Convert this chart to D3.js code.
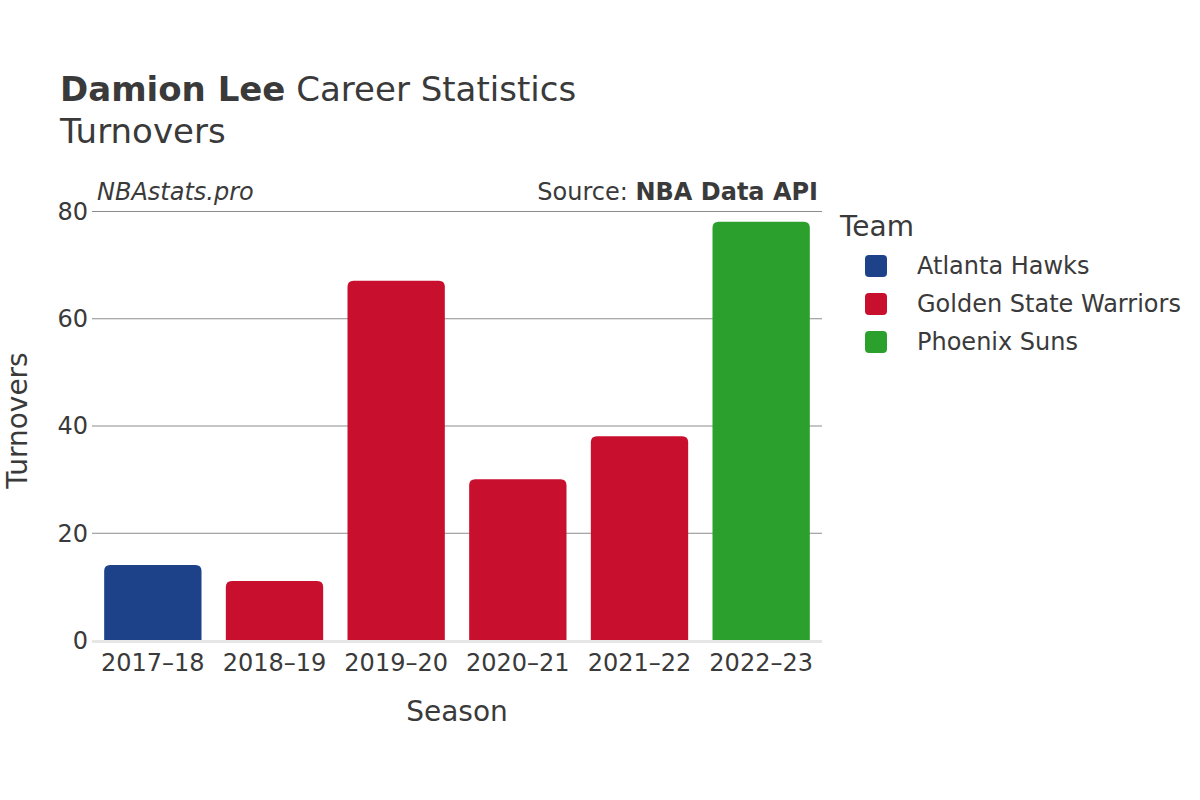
<!DOCTYPE html>
<html>
<head>
<meta charset="utf-8">
<script src="https://cdn.jsdelivr.net/npm/d3@7"></script>
<style>
  html, body { margin: 0; padding: 0; background: #fff; }
  svg { display: block; font-family: "DejaVu Sans", sans-serif; }
</style>
</head>
<body>
<svg id="chart" width="1200" height="800"></svg>
<script>
const seasons = ["2017–18", "2018–19", "2019–20", "2020–21", "2021–22", "2022–23"];
const teams = ["Atlanta Hawks", "Golden State Warriors", "Golden State Warriors", "Golden State Warriors", "Golden State Warriors", "Phoenix Suns"];
const turnovers = [14, 11, 67, 30, 38, 78];
const legendTeams = ["Atlanta Hawks", "Golden State Warriors", "Phoenix Suns"];
const teamColors = ["#1d428a", "#c8102e", "#2ca02c"];
const yTicks = [0, 20, 40, 60, 80];

const svg = d3.select("#chart");
const margin = { left: 92, right: 822, top: 211, bottom: 640 };
const textColor = "#3a3a3a";

const x = d3.scaleBand().domain(seasons).range([margin.left, margin.right]).paddingInner(0.2).paddingOuter(0.1);
const y = d3.scaleLinear().domain([0, 80]).range([margin.bottom, margin.top]);
const color = d3.scaleOrdinal().domain(legendTeams).range(teamColors);

// Title
const title = svg.append("text").attr("x", 60).attr("y", 101).attr("font-size", 34).attr("fill", textColor);
title.append("tspan").attr("font-weight", "bold").text("Damion Lee");
title.append("tspan").text(" Career Statistics");
svg.append("text").attr("x", 60).attr("y", 143).attr("font-size", 34).attr("fill", textColor).text("Turnovers");

// Subtitles
svg.append("text").attr("x", 97).attr("y", 200).attr("font-size", 24).attr("font-style", "italic").attr("fill", textColor).text("NBAstats.pro");
const src = svg.append("text").attr("x", 818).attr("y", 200).attr("font-size", 24).attr("text-anchor", "end").attr("fill", textColor);
src.append("tspan").text("Source: ");
src.append("tspan").attr("font-weight", "bold").text("NBA Data API");

// Grid
const yAxis = d3.axisLeft(y).tickValues(yTicks).tickSize(-(margin.right - margin.left)).tickPadding(4);
const gy = svg.append("g").attr("transform", `translate(${margin.left},0)`).call(yAxis);
gy.select(".domain").remove();
gy.selectAll(".tick line").attr("stroke", "#8c8c8c").attr("stroke-width", 1);
gy.selectAll(".tick").filter(d => d === 0).select("line").remove();
gy.selectAll(".tick text").attr("font-size", 24).attr("fill", textColor).attr("font-family", "DejaVu Sans, sans-serif").attr("dy", "0.35em");

// Zero line
svg.append("line").attr("x1", margin.left).attr("x2", margin.right).attr("y1", y(0) + 1.5).attr("y2", y(0) + 1.5)
  .attr("stroke", "#e6e6e6").attr("stroke-width", 3);

// Bars with rounded top corners
function barPath(x0, w, yTop, yBot, r) {
  r = Math.min(r, w / 2, (yBot - yTop));
  return `M${x0},${yBot} L${x0},${yTop + r} Q${x0},${yTop} ${x0 + r},${yTop} L${x0 + w - r},${yTop} Q${x0 + w},${yTop} ${x0 + w},${yTop + r} L${x0 + w},${yBot} Z`;
}
svg.append("g").selectAll("path").data(seasons).join("path")
  .attr("d", (s, i) => barPath(x(s), x.bandwidth(), y(turnovers[i]), y(0), 6))
  .attr("fill", (s, i) => color(teams[i]));

// X axis
const xAxis = d3.axisBottom(x).tickSize(0).tickPadding(8);
const gx = svg.append("g").attr("transform", `translate(0,${margin.bottom})`).call(xAxis);
gx.select(".domain").remove();
gx.selectAll(".tick text").attr("font-size", 24).attr("fill", textColor).attr("font-family", "DejaVu Sans, sans-serif").attr("dy", "0.95em");

// Axis titles
svg.append("text").attr("x", (margin.left + margin.right) / 2).attr("y", 721).attr("text-anchor", "middle").attr("font-size", 28).attr("fill", textColor).text("Season");
svg.append("text").attr("transform", `translate(27,${(margin.top + margin.bottom) / 2 - 5}) rotate(-90)`).attr("text-anchor", "middle").attr("font-size", 28).attr("fill", textColor).text("Turnovers");

// Legend
svg.append("text").attr("x", 840).attr("y", 236).attr("font-size", 28).attr("fill", textColor).text("Team");
const lg = svg.append("g").selectAll("g").data(legendTeams).join("g")
  .attr("transform", (d, i) => `translate(865,${266 + i * 38})`);
lg.append("rect").attr("x", 0).attr("y", -11).attr("width", 22).attr("height", 22).attr("rx", 4).attr("fill", d => color(d));
lg.append("text").attr("x", 52).attr("y", 0).attr("dy", "0.35em").attr("font-size", 24).attr("fill", textColor).text(d => d);
</script>
</body>
</html>
